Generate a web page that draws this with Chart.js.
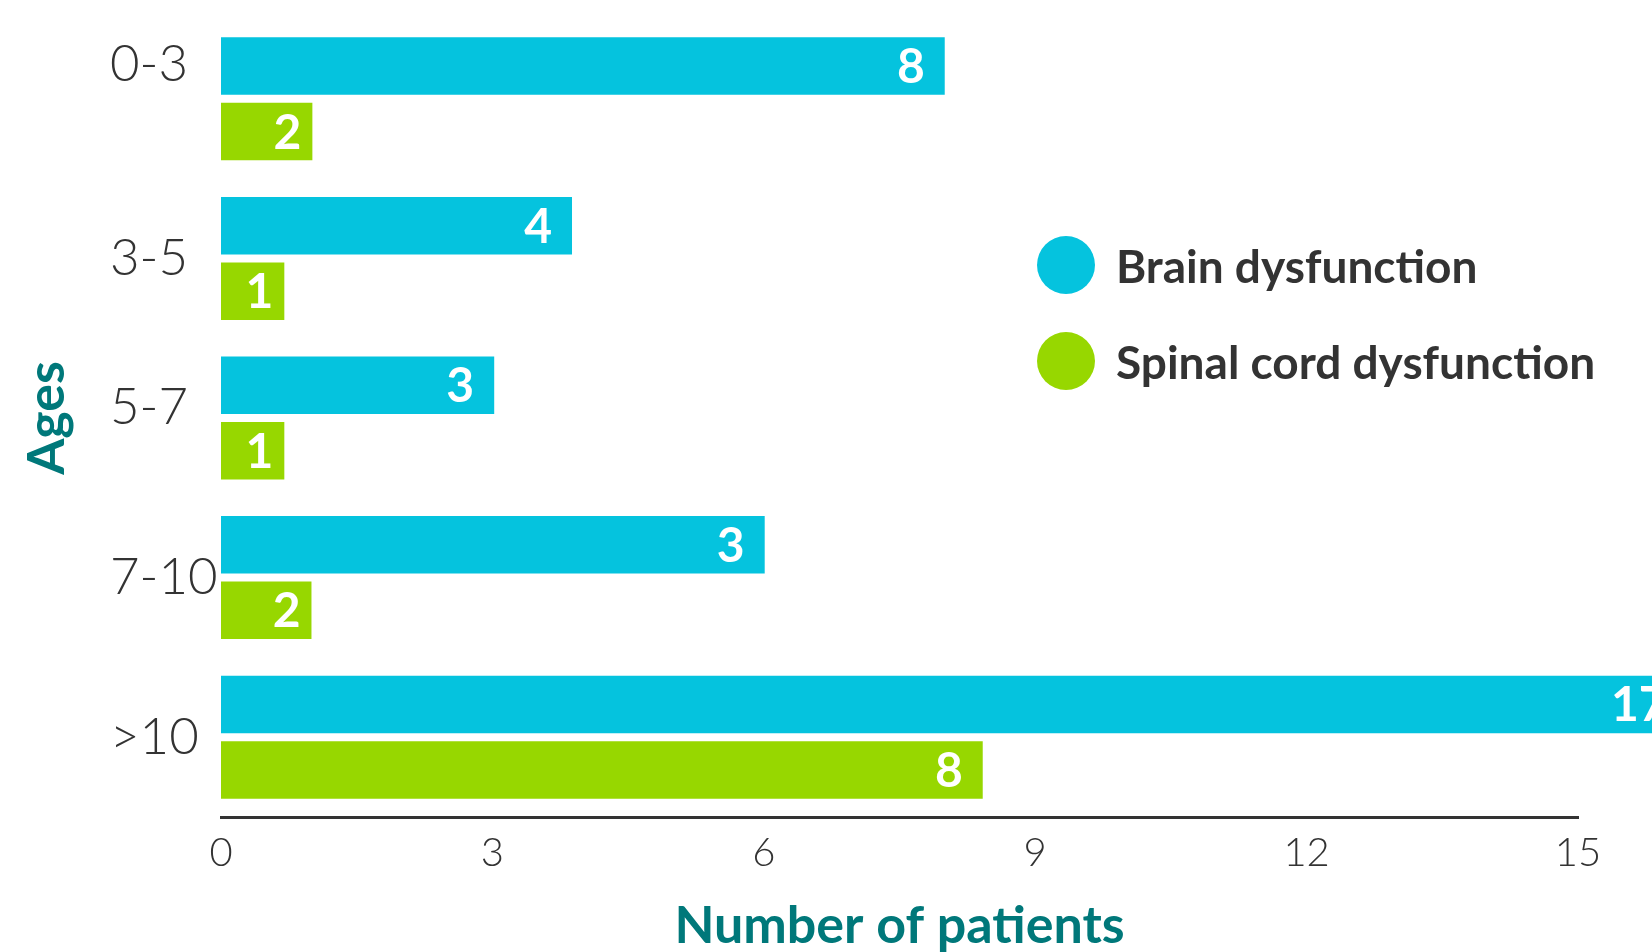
<!DOCTYPE html>
<html>
<head>
<meta charset="utf-8">
<script src="https://cdn.jsdelivr.net/npm/chart.js@4"></script>
<style>
  html, body { margin: 0; padding: 0; background: #fff; }
</style>
</head>
<body>
<canvas id="ageChart" width="1652" height="952"></canvas>
<script>
const ageGroups = ["0-3", "3-5", "5-7", "7-10", ">10"];
const seriesNames = ["Brain dysfunction", "Spinal cord dysfunction"];
// bar lengths as drawn in the picture (they don't always match the printed numbers)
const brainBars = [8, 3.88, 3.02, 6.01, 16.2];
const spinalBars = [1.01, 0.7, 0.7, 1.0, 8.42];
// numbers printed on the bars
const brainLabels = [8, 4, 3, 3, 17];
const spinalLabels = [2, 1, 1, 2, 8];
const xTicks = [0, 3, 6, 9, 12, 15];

const teal = "#00787a";
const ink = "#333333";
Chart.defaults.font.family = "Lato";

// white numbers at the end of each bar
const barLabels = {
  id: "barLabels",
  afterDatasetsDraw(chart) {
    const ctx = chart.ctx;
    ctx.save();
    ctx.font = "bold 48px Lato";
    ctx.fillStyle = "#fff";
    ctx.textAlign = "right";
    ctx.textBaseline = "alphabetic";
    chart.data.datasets.forEach((ds, i) => {
      chart.getDatasetMeta(i).data.forEach((bar, j) => {
        const w = bar.x - bar.base;
        const pad = w < 100 ? 11 : 20;
        ctx.fillText(ds.printed[j], bar.x - pad, bar.y + 17);
      });
    });
    ctx.restore();
  }
};

// the first age label sits level with its upper bar in the original
const nudgeLabels = {
  id: "nudgeLabels",
  beforeDraw(chart) {
    const items = chart.scales.y.getLabelItems(chart.chartArea);
    if (items._nudged) return;
    const shifts = [-34, 0, -10, 0, 0];
    items.forEach((it, i) => { it.options.translation[1] += shifts[i] || 0; });
    items._nudged = true;
  }
};

// legend with round markers inside the plot
const sideLegend = {
  id: "sideLegend",
  afterDraw(chart) {
    const ctx = chart.ctx;
    const rows = [265, 361];
    ctx.save();
    chart.data.datasets.forEach((ds, i) => {
      ctx.fillStyle = ds.backgroundColor;
      ctx.beginPath();
      ctx.arc(1066, rows[i], 29, 0, Math.PI * 2);
      ctx.fill();
      ctx.fillStyle = ink;
      ctx.font = "bold 46px Lato";
      ctx.textAlign = "left";
      ctx.textBaseline = "alphabetic";
      ctx.fillText(ds.label, 1116, rows[i] + 18);
    });
    ctx.restore();
  }
};

new Chart(document.getElementById("ageChart"), {
  type: "bar",
  data: {
    labels: ageGroups,
    datasets: [
      { label: seriesNames[0], data: brainBars, printed: brainLabels, backgroundColor: "#05c3de",
        barPercentage: 0.878, categoryPercentage: 0.821, clip: false },
      { label: seriesNames[1], data: spinalBars, printed: spinalLabels, backgroundColor: "#97d700",
        barPercentage: 0.878, categoryPercentage: 0.821, clip: false }
    ]
  },
  options: {
    responsive: false,
    animation: false,
    indexAxis: "y",
    layout: { padding: { top: 19, right: 74, left: 0, bottom: 0 } },
    plugins: {
      legend: { display: false },
      tooltip: { enabled: false },
      title: {
        display: true, text: "Ages", position: "left", fullSize: false, color: teal,
        font: { size: 52, weight: "bold", lineHeight: 1 },
        padding: { top: 21, bottom: 37 }
      }
    },
    scales: {
      x: {
        min: 0, max: 15,
        afterBuildTicks(s) { s.ticks = xTicks.map(v => ({ value: v })); },
        afterFit(s) { s.height = 135; },
        grid: { display: false, drawTicks: false },
        border: { display: true, color: ink, width: 3 },
        ticks: { color: ink, font: { size: 40, weight: 300 }, padding: 12 },
        title: {
          display: true, text: "Number of patients", color: teal,
          font: { size: 52, weight: "bold", lineHeight: 1 },
          padding: { top: 0, bottom: 0 }
        }
      },
      y: {
        afterFit(s) {
          s.width = 111;
          s.paddingTop = 0;
          s.paddingBottom = 0;
        },
        grid: { display: false, drawTicks: false },
        border: { display: false },
        ticks: { crossAlign: "far", color: ink, font: { size: 51, weight: 300 }, padding: 0 }
      }
    }
  },
  plugins: [barLabels, nudgeLabels, sideLegend]
});
</script>
</body>
</html>
